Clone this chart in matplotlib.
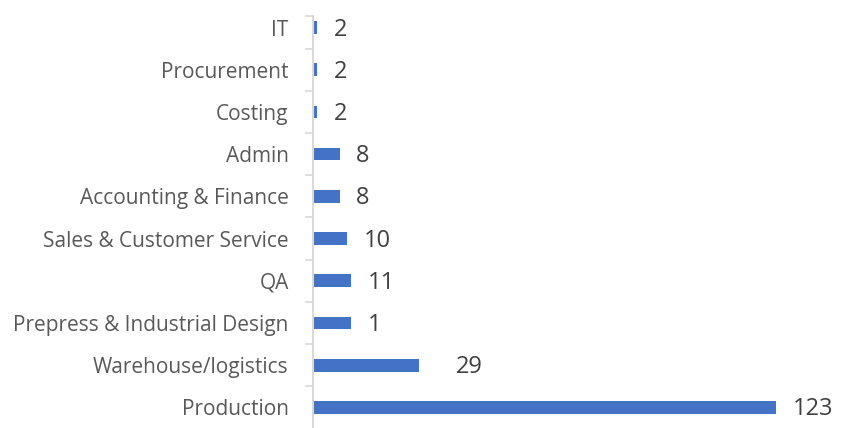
"""Headcount by department, horizontal bar chart."""

import matplotlib

matplotlib.use("Agg")
from matplotlib import pyplot as plt

departments = [
    "Production",
    "Warehouse/logistics",
    "Prepress & Industrial Design",
    "QA",
    "Sales & Customer Service",
    "Accounting & Finance",
    "Admin",
    "Costing",
    "Procurement",
    "IT",
]
headcount = [123, 29, 11, 11, 10, 8, 8, 2, 2, 2]
value_labels = ["123", "29", "1", "11", "10", "8", "8", "2", "2", "2"]

BAR = "#4472C4"
AXIS = "#D9D9D9"

plt.rcParams["font.family"] = ["Open Sans", "DejaVu Sans"]

fig = plt.figure(figsize=(8.66, 4.28), dpi=100)
# the original chart is cropped at the top and bottom
ax = fig.add_axes([313 / 866, -0.5 / 428, 528 / 866, 412.8 / 428])

ys = list(range(len(departments)))
top = len(departments) - 0.72
ax.barh(ys, headcount, height=0.3, color=BAR)
ax.set_xlim(1, 140)
ax.set_ylim(-0.5, top)

# labels in the middle, short ticks on the category borders
ax.set_yticks(ys)
ax.set_yticklabels(departments, fontsize=15, color="#595959")
ax.tick_params(axis="y", which="major", length=0, pad=17.5)
ax.set_yticks([y - 0.5 for y in ys] + [top], minor=True)
ax.tick_params(axis="y", which="minor", length=6, width=1.2, color=AXIS)
ax.set_xticks([])

for side in ("top", "right", "bottom"):
    ax.spines[side].set_visible(False)
ax.spines["left"].set_color(AXIS)
ax.spines["left"].set_linewidth(1.5)

offsets = {1: 26}
for i, (v, txt) in enumerate(zip(headcount, value_labels)):
    ax.annotate(txt, (v, i), xytext=(offsets.get(i, 12), -1.5),
                textcoords="offset points", va="center", ha="left",
                fontsize=17, color="#404040")

fig.savefig("out.png", dpi=100)
